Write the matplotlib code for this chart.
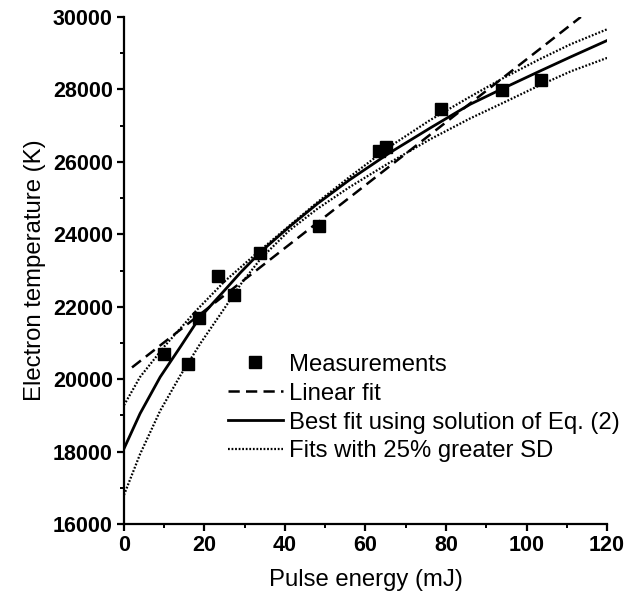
import matplotlib
matplotlib.use("Agg")
import matplotlib.pyplot as plt
import numpy as np
from matplotlib.ticker import MultipleLocator

plt.rcParams['font.family'] = ['Liberation Sans', 'DejaVu Sans']

# Measurements
meas_energy = [9.9, 16.0, 18.7, 23.4, 27.3, 33.9, 48.4, 63.4, 65.1, 78.8, 93.8, 103.6]
meas_temp = [20700, 20410, 21700, 22850, 22320, 23480, 24240, 26290, 26400, 27470, 27990, 28270]

# Linear fit
linear_intercept = 20150
linear_slope = 86.8
linear_range = [2.0, 113.5]

# Best fit using solution of Eq. (2)
best_energy = [0, 4, 9, 14, 18.6, 24, 29, 34, 41, 48, 56, 66, 76, 86, 94, 103, 111, 120]
best_temp = [18080, 19050, 20060, 20890, 21670, 22330, 22950, 23520, 24200, 24840,
             25500, 26250, 26930, 27590, 28020, 28490, 28900, 29350]

# Fits with 25% greater SD (upper and lower)
upper_energy = [0, 4, 10, 18, 25, 33, 41, 48, 56, 66, 76, 86, 94, 103, 111, 120]
upper_temp = [19280, 20060, 20900, 21900, 22700, 23480, 24230, 24880, 25580, 26420,
              27150, 27800, 28300, 28820, 29250, 29660]
lower_energy = [0, 4, 9, 14, 19, 24, 29, 34, 41, 48, 56, 66, 76, 86, 94, 103, 111, 120]
lower_temp = [16800, 17930, 19130, 20100, 20990, 21800, 22620, 23330, 24100, 24700,
              25300, 25980, 26620, 27200, 27620, 28100, 28500, 28870]

fig = plt.figure(figsize=(6.41, 6.01), dpi=100)
ax = fig.add_axes([0.1934, 0.1281, 0.7536, 0.8436])

lin_x = np.array(linear_range)
lin_y = linear_intercept + linear_slope * lin_x

ax.plot(meas_energy, meas_temp, linestyle='none', marker='s', color='black',
        markersize=8, label='Measurements', zorder=5)
ax.plot(lin_x, lin_y, color='black', lw=1.8, linestyle=(0, (4.5, 2.5)), label='Linear fit')
ax.plot(best_energy, best_temp, color='black', lw=2.0, label='Best fit using solution of Eq. (2)')
ax.plot(upper_energy, upper_temp, color='black', lw=1.6, linestyle=(0, (0.8, 0.8)),
        label='Fits with 25% greater SD')
ax.plot(lower_energy, lower_temp, color='black', lw=1.6, linestyle=(0, (0.8, 0.8)))

ax.set_xlim(0, 120)
ax.set_ylim(16000, 30000)
ax.xaxis.set_major_locator(MultipleLocator(20))
ax.xaxis.set_minor_locator(MultipleLocator(10))
ax.yaxis.set_major_locator(MultipleLocator(2000))
ax.yaxis.set_minor_locator(MultipleLocator(1000))

for s in ['top', 'right']:
    ax.spines[s].set_visible(False)
for s in ['left', 'bottom']:
    ax.spines[s].set_linewidth(1.6)

ax.tick_params(which='major', direction='out', length=5, width=1.6, labelsize=15.5, pad=3)
ax.tick_params(which='minor', direction='out', length=3, width=1.4)
for lab in ax.get_xticklabels() + ax.get_yticklabels():
    lab.set_fontweight('bold')

ax.set_xlabel('Pulse energy (mJ)', fontsize=17.2, labelpad=9)
ax.set_ylabel('Electron temperature (K)', fontsize=17.2, labelpad=5)

leg = ax.legend(loc='upper left', bbox_to_anchor=(0.215, 0.336), frameon=False,
                fontsize=17.2, handlelength=2.3, handletextpad=0.25,
                labelspacing=0.29, borderpad=0, borderaxespad=0)

fig.savefig('out.png', dpi=100)
